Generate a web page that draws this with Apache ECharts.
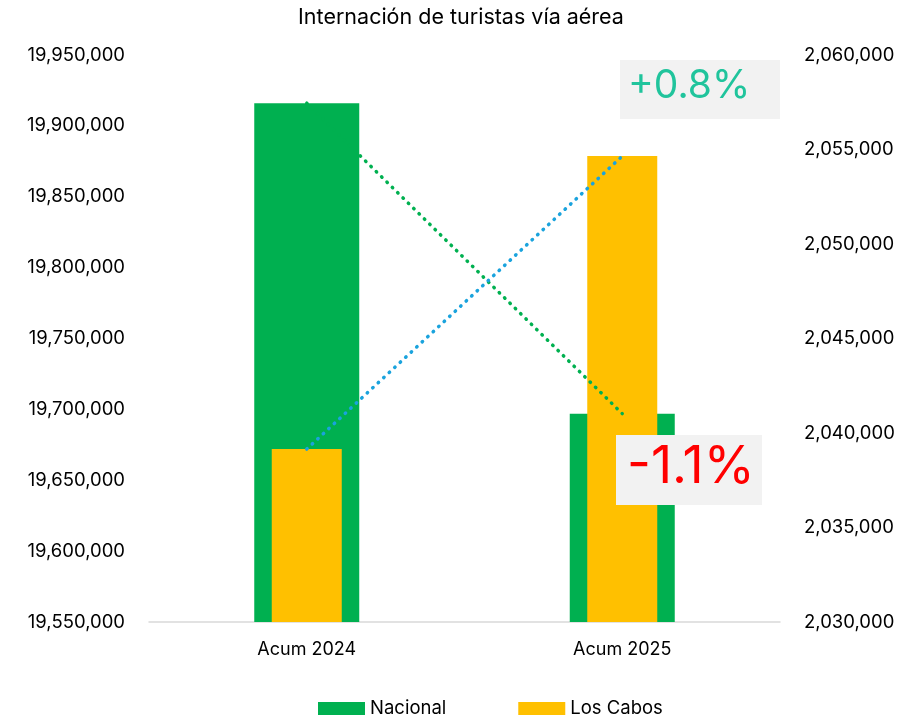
<!DOCTYPE html>
<html>
<head>
<meta charset="utf-8">
<script src="https://cdn.jsdelivr.net/npm/echarts@6/dist/echarts.min.js"></script>
<style>
    html, body { margin: 0; padding: 0; background: #fff; }
    #chart { width: 922px; height: 718px; }
</style>
</head>
<body>
<div id="chart"></div>
<script>
/* datos */
var categorias = ['Acum 2024', 'Acum 2025'];
var nacional = [19916000, 19697000];
var losCabos = [2039150, 2054650];
var etiquetaNacional = '-1.1%';
var etiquetaCabos = '+0.8%';

var fuente = 'Inter, "Noto Sans", sans-serif';

var initChart = function () {
    var dom = document.getElementById('chart');
    var myChart = echarts.init(dom);
    var fmt = function (v) { return echarts.format.addCommas(v); };

    var option = {
        animation: false,
        textStyle: { fontFamily: fuente },
        title: {
            text: 'Internación de turistas vía aérea',
            left: 'center',
            top: 2,
            textStyle: { fontSize: 21.5, fontWeight: 'normal', color: '#000', fontFamily: fuente }
        },
        legend: {
            top: 694,
            left: 313,
            icon: 'rect',
            itemWidth: 47,
            itemHeight: 13,
            itemGap: 72,
            data: ['Nacional', 'Los Cabos'],
            textStyle: { fontSize: 18.5, color: '#000', fontFamily: fuente }
        },
        grid: { left: 149, right: 142, top: 55, bottom: 96 },
        xAxis: [{
            type: 'category',
            data: categorias,
            axisTick: { show: false },
            axisLine: { lineStyle: { color: '#d9d9d9', width: 1.5 } },
            axisLabel: { fontSize: 18, color: '#000', margin: 19 }
        }, {
            type: 'category',
            data: categorias,
            position: 'bottom',
            show: false
        }],
        yAxis: [{
            type: 'value',
            min: 19550000,
            max: 19950000,
            interval: 50000,
            splitLine: { show: false },
            axisLabel: { fontSize: 18.5, color: '#000', margin: 24, formatter: fmt }
        }, {
            type: 'value',
            min: 2030000,
            max: 2060000,
            interval: 5000,
            splitLine: { show: false },
            axisLabel: { fontSize: 18.5, color: '#000', margin: 24, formatter: fmt }
        }],
        series: [{
            name: 'Nacional',
            type: 'bar',
            xAxisIndex: 0,
            yAxisIndex: 0,
            barWidth: 105,
            itemStyle: { color: '#00B050' },
            data: nacional,
            z: 2
        }, {
            name: 'Los Cabos',
            type: 'bar',
            xAxisIndex: 1,
            yAxisIndex: 1,
            barWidth: 70,
            itemStyle: { color: '#FFC000' },
            data: losCabos,
            z: 3
        }, {
            name: 'Tendencia Nacional',
            type: 'line',
            xAxisIndex: 0,
            yAxisIndex: 0,
            symbol: 'none',
            lineStyle: { color: '#00B050', width: 3.5, type: [0.5, 7], cap: 'round' },
            data: nacional,
            z: 5
        }, {
            name: 'Tendencia Los Cabos',
            type: 'line',
            xAxisIndex: 0,
            yAxisIndex: 1,
            symbol: 'none',
            lineStyle: { color: '#1AA3DD', width: 3.5, type: [0.5, 7], cap: 'round' },
            data: losCabos,
            z: 5
        }],
        graphic: [{
            type: 'rect',
            left: 620, top: 60,
            shape: { width: 160, height: 59 },
            style: { fill: '#f2f2f2' },
            z: 10
        }, {
            type: 'text',
            left: 628, top: 67,
            style: { text: etiquetaCabos, fill: '#20C49C', fontSize: 39, fontFamily: fuente },
            z: 11
        }, {
            type: 'rect',
            left: 616, top: 435,
            shape: { width: 146, height: 70 },
            style: { fill: '#f2f2f2' },
            z: 10
        }, {
            type: 'text',
            left: 627, top: 441,
            style: { text: etiquetaNacional, fill: '#FF0000', fontSize: 52, fontFamily: fuente },
            z: 11
        }]
    };
    myChart.setOption(option);
};

initChart();
</script>
</body>
</html>
